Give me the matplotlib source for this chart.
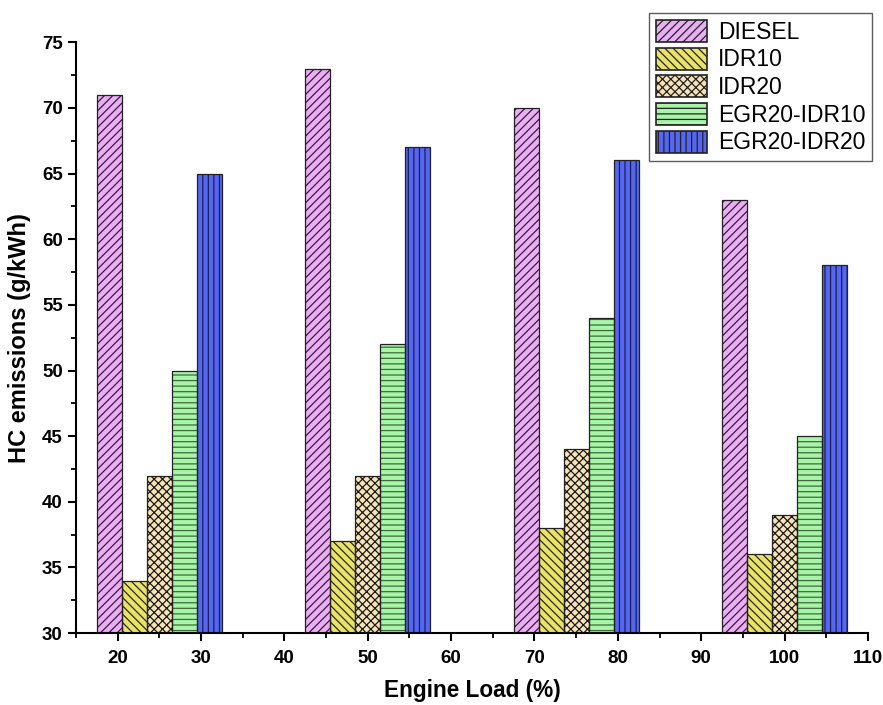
import matplotlib
matplotlib.use("Agg")
import matplotlib.pyplot as plt
import numpy as np

plt.rcParams['font.family'] = ['Liberation Sans', 'DejaVu Sans']
plt.rcParams['hatch.linewidth'] = 0.9

loads = [25, 50, 75, 100]
series = ["DIESEL", "IDR10", "IDR20", "EGR20-IDR10", "EGR20-IDR20"]
diesel = [71, 73, 70, 63]
idr10 = [34, 37, 38, 36]
idr20 = [42, 42, 44, 39]
egr20_idr10 = [50, 52, 54, 45]
egr20_idr20 = [65, 67, 66, 58]
values = [diesel, idr10, idr20, egr20_idr10, egr20_idr20]

colors = ["#E9AEF4", "#EAE36A", "#F8E3B8", "#A8F5A8", "#5566F2"]
hatch_colors = ["#3a1a3a", "#2a2a10", "#1a1a1a", "#3c6a3c", "#1a1f50"]
hatches = ["////", "\\\\\\\\", "xxxx", "---", "|||"]

fig = plt.figure(figsize=(8.83, 7.05), dpi=100)
ax = fig.add_axes([0.086, 0.102, 0.897, 0.838])

width = 3.0
ybase = 30
x = np.array(loads, dtype=float)
for i, (name, vals) in enumerate(zip(series, values)):
    offs = (i - 2) * width
    heights = np.array(vals) - ybase
    ax.bar(x + offs, heights, width=width, bottom=ybase,
           color=colors[i], edgecolor=hatch_colors[i], hatch=hatches[i],
           linewidth=0.0, label=name, zorder=2)
    # thin dark outline on top of the hatched fill
    ax.bar(x + offs, heights, width=width, bottom=ybase, fill=False,
           edgecolor="#222222", linewidth=0.9, zorder=3)

ax.set_xlim(15, 110)
ax.set_ylim(30, 75)
ax.set_xticks(np.arange(20, 111, 10))
ax.set_xticks(np.arange(15, 111, 5), minor=True)
ax.set_yticks(np.arange(30, 76, 5))
ax.set_yticks(np.arange(30, 76, 2.5), minor=True)

for s in ["top", "right"]:
    ax.spines[s].set_visible(False)
for s in ["left", "bottom"]:
    ax.spines[s].set_linewidth(1.5)

ax.tick_params(axis="both", which="major", length=6, width=1.5, direction="out",
               labelsize=13.5)
ax.tick_params(axis="x", which="major", pad=6)
ax.tick_params(axis="both", which="minor", length=3.5, width=1.3, direction="out")
for lab in ax.get_xticklabels() + ax.get_yticklabels():
    lab.set_fontweight("bold")

ax.set_xlabel("Engine Load (%)", fontsize=16.3, fontweight="bold", labelpad=9)
ax.set_ylabel("HC emissions (g/kWh)", fontsize=17, fontweight="bold", labelpad=8)

handles, labels = ax.get_legend_handles_labels()
leg = fig.legend(handles, labels, loc="upper right",
                 bbox_to_anchor=(872 / 883, 1 - 13 / 705),
                 bbox_transform=fig.transFigure, fontsize=16.5,
                 handlelength=2.25, handleheight=1.1, handletextpad=0.45,
                 labelspacing=0.17, borderpad=0.3, borderaxespad=0,
                 frameon=True, fancybox=False, edgecolor="#333333")
leg.get_frame().set_linewidth(1.0)
for h in leg.legend_handles:
    h.set_linewidth(1.2)
    h.set_edgecolor("#222222")

fig.savefig("out.png", dpi=100)
